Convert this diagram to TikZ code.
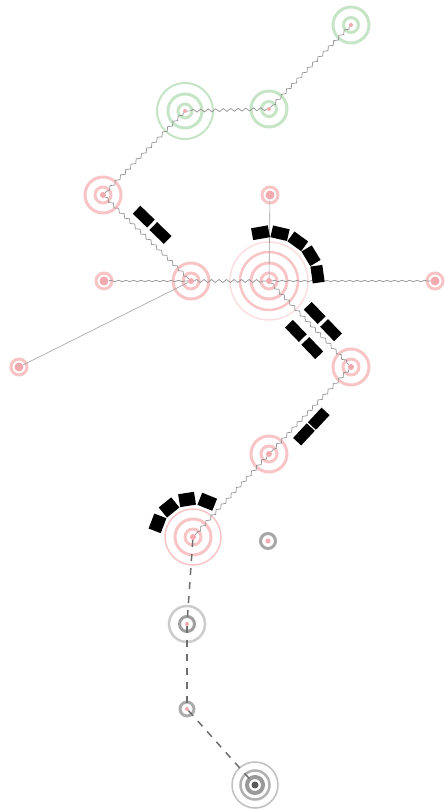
\documentclass[tikz,border=0pt]{standalone}
\usepackage{tikz}
\usetikzlibrary{calc,decorations.pathmorphing}

\definecolor{ringgreen}{RGB}{198,228,198}
\definecolor{ringred}{RGB}{249,196,198}
\definecolor{ringfaint}{RGB}{252,222,224}
\definecolor{corepink}{RGB}{241,170,176}

\begin{document}
\begin{tikzpicture}[
    x=1pt, y=1pt,
    core/.style={circle, fill=corepink, inner sep=0, minimum size=6pt},
    smallcore/.style={core, minimum size=9pt},
    ring/.style={line width=3pt},
    wave/.style={draw=gray!85, line width=0.7pt, decorate, decoration={snake, amplitude=1.5pt, segment length=7.5pt}},
    flatwave/.style={wave, decoration={snake, amplitude=0.7pt, segment length=7.5pt}},
    thinlink/.style={draw=gray!80, line width=0.6pt},
    dashlink/.style={draw=black!57, line width=1.5pt, dash pattern=on 7pt off 7pt},
    slot/.style={fill=black, inner sep=0, minimum width=17pt, minimum height=12pt},
    longslot/.style={slot, minimum width=20pt, minimum height=11pt}
]
\useasboundingbox (0,0) rectangle (445,810);

% green sites
\node[core, minimum size=4pt] (g1) at (351,785) {};
\node[core, minimum size=4pt] (g2) at (185,699) {};
\node[core, minimum size=4pt] (g3) at (269,701) {};
\draw[ring, ringgreen] (g1) circle[radius=7.5] circle[radius=18];
\draw[ring, ringgreen] (g3) circle[radius=7.5] circle[radius=18];
\draw[ring, ringgreen] (g2) circle[radius=7] circle[radius=17];
\draw[ringgreen, line width=2pt] (g2) circle[radius=28];

% red sites
\node[core] (r1) at (103,615) {};
\node[smallcore] (r2) at (270,615) {};
\node[smallcore] (r3) at (104,529) {};
\node[core] (r4) at (191,529) {};
\node[core] (r5) at (269,529) {};
\node[smallcore] (r6) at (435,529) {};
\node[smallcore] (r7) at (19,443) {};
\node[core] (r8) at (351,443) {};
\node[core] (r9) at (269,356) {};
\node[core] (r10) at (193,273) {};
\foreach \n in {r2,r3,r6,r7}
    \draw[ring, ringred] (\n) circle[radius=8];
\foreach \n in {r1,r4,r5,r8,r9,r10}
    \draw[ring, ringred] (\n) circle[radius=8] circle[radius=18];
\draw[ring, ringred, line width=2.5pt] (r5) circle[radius=29];
\draw[ringfaint, line width=1.5pt] (r5) circle[radius=39];
\draw[ringred, line width=1.5pt] (r10) circle[radius=28];

% grey sites
\node[core, minimum size=5pt] (k1) at (268,269) {};
\node[core, minimum size=4pt] (k2) at (187,186) {};
\node[core, minimum size=4pt] (k3) at (187,101) {};
\node[circle, fill=black!65, inner sep=0, minimum size=7pt] (k4) at (255,25) {};
\draw[ring, gray!70] (k1) circle[radius=7.5];
\draw[ring, gray!75] (k2) circle[radius=7.5];
\draw[gray!40, line width=2.5pt] (k2) circle[radius=18];
\draw[ring, gray!65] (k3) circle[radius=7];
\draw[gray!80, line width=4pt] (k4) circle[radius=8];
\draw[gray!60, line width=2.5pt] (k4) circle[radius=14.5];
\draw[gray!50, line width=1.5pt] (k4) circle[radius=23];

% links
\draw[wave] (g1) -- (g3);
\draw[wave] (g3) -- (g2);
\draw[wave] (g2) -- (r1);
\draw[wave] (r1) -- (r4);
\draw[flatwave] (r3) -- (r4);
\draw[wave] (r4) -- (r5);
\draw[flatwave] (r5) -- (r6);
\draw[wave] (r5) -- (r8);
\draw[wave] (r8) -- (r9);
\draw[wave] (r9) -- (r10);
\draw[thinlink] (r2) -- (r5);
\draw[thinlink] (r7) -- (r4);
\draw[dashlink] (r10) -- (k2);
\draw[dashlink] (k2) -- (k3);
\draw[dashlink] (k3) -- (k4);

% blocks beside links
\node[longslot, rotate=-44] (s14a) at ($(r1)!0.36!(r4)!13pt!90:(r4)$) {};
\node[longslot, rotate=-44] (s14b) at ($(r1)!0.55!(r4)!13pt!90:(r4)$) {};
\node[longslot, rotate=-46] (s58a) at ($(r5)!0.46!(r8)!11pt!90:(r8)$) {};
\node[longslot, rotate=-46] (s58b) at ($(r5)!0.66!(r8)!11pt!90:(r8)$) {};
\node[longslot, rotate=-46] (s58c) at ($(r5)!0.46!(r8)!15pt!-90:(r8)$) {};
\node[longslot, rotate=-46] (s58d) at ($(r5)!0.66!(r8)!15pt!-90:(r8)$) {};
\node[longslot, rotate=47] (s98a) at ($(r9)!0.32!(r8)!12pt!-90:(r8)$) {};
\node[longslot, rotate=47] (s98b) at ($(r9)!0.50!(r8)!12pt!-90:(r8)$) {};

% blocks round sites
\foreach \a in {100,77,54,31,8}
    \node[slot, rotate=\a-90] (s5\a) at ($(r5)+(\a:49)$) {};
\foreach \a in {159,129,99,68}
    \node[slot, minimum width=16pt, minimum height=13pt, rotate=\a-90] (s10\a) at ($(r10)+(\a:38)$) {};

\end{tikzpicture}
\end{document}
